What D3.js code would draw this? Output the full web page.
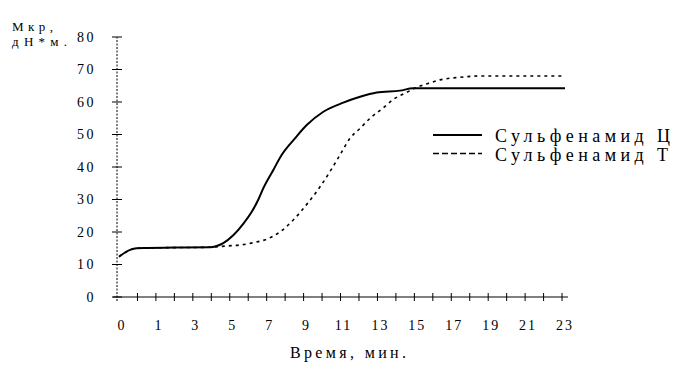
<!DOCTYPE html>
<html><head><meta charset="utf-8">
<script src="https://cdn.jsdelivr.net/npm/d3@7"></script>
<style>
html,body{margin:0;padding:0;background:#fff;}
svg text{font-family:'Liberation Serif','Times New Roman',Times,serif !important;}
</style></head>
<body><svg id="chart" width="695" height="378"></svg>
<script>
// x tick labels (minutes) — evenly spaced on the original axis
const xTickLabels = [0,1,3,5,7,9,11,13,15,17,19,21,23];
const yTickValues = [0,10,20,30,40,50,60,70,80];
// series: time (min) and torque (dN*m)
const tSolid = [0,0.3,0.48,0.66,2.03,3.93,4.29,4.65,5.19,5.73,6.19,6.55,6.82,7.36,7.81,8.53,9.17,10.07,11.15,12.06,12.96,14.22,14.93,23.16];
const vSolid = [12.4,14.5,15.0,15.1,15.2,15.3,15.7,16.6,19.0,22.5,26.2,30.0,33.5,39.1,43.7,48.8,52.9,57.0,59.8,61.6,62.9,63.5,64.2,64.2];
const tDashed = [0,0.3,0.48,0.66,2.03,3.93,4.83,5.55,6.28,7.0,7.72,8.44,9.17,9.89,10.43,10.97,11.51,12.06,12.6,13.32,13.86,14.49,15.31,15.85,16.39,17.47,18.56,23.16];
const vDashed = [12.4,14.5,15.0,15.1,15.2,15.3,15.7,16.0,16.7,17.8,20.0,23.7,28.5,33.9,38.6,43.7,48.8,51.9,55.0,58.2,60.8,62.7,64.9,65.9,66.8,67.6,68.0,68.0];
const seriesNames = ["Сульфенамид Ц","Сульфенамид Т"];

const svg = d3.select("#chart");
const x0 = 119, step = 36.92;
const x = d3.scaleLinear().domain(xTickLabels).range(xTickLabels.map((d,i)=>x0+i*step));
const y = d3.scaleLinear().domain([0,80]).range([297,37]);

const g = svg.append("g");
// x axis line
g.append("line").attr("x1",113).attr("x2",568).attr("y1",y(0)).attr("y2",y(0))
  .attr("stroke","#000").attr("stroke-width",1);
// y axis line (dotted look)
g.append("line").attr("x1",117).attr("x2",117).attr("y1",y(0)+4).attr("y2",y(80))
  .attr("stroke","#000").attr("stroke-width",1).attr("stroke-dasharray","2,1.5");

// y ticks
g.selectAll(".yt").data(yTickValues).enter().append("line")
  .attr("x1",112).attr("x2",122).attr("y1",d=>y(d)).attr("y2",d=>y(d))
  .attr("stroke","#000").attr("stroke-width",1);
g.selectAll(".yl").data(yTickValues).enter().append("text")
  .attr("x",96).attr("y",d=>y(d)).attr("dy","0.35em").attr("text-anchor","end")
  .attr("font-size",14).attr("letter-spacing",2.5).text(d=>d);

// x ticks: at labels and halfway between
const halfTicks = [];
for (let i=0;i<xTickLabels.length;i++){
  halfTicks.push(x(xTickLabels[i]));
  if (i<xTickLabels.length-1) halfTicks.push((x(xTickLabels[i])+x(xTickLabels[i+1]))/2);
}
g.selectAll(".xt").data(halfTicks.slice(1)).enter().append("line")
  .attr("x1",d=>d).attr("x2",d=>d).attr("y1",y(0)-4).attr("y2",y(0)+4)
  .attr("stroke","#000").attr("stroke-width",1);
g.selectAll(".xl").data(xTickLabels).enter().append("text")
  .attr("x",d=>x(d)+3).attr("y",330).attr("text-anchor","middle")
  .attr("font-size",14).attr("letter-spacing",2).text(d=>d);

// axis titles
g.append("text").attr("x",12).attr("y",31).attr("font-size",13)
  .attr("textLength",41).attr("lengthAdjust","spacing").text("Мкр,");
g.append("text").attr("x",12).attr("y",46).attr("font-size",13)
  .attr("textLength",55).attr("lengthAdjust","spacing").text("дН*м.");
g.append("text").attr("x",290).attr("y",358).attr("font-size",16)
  .attr("textLength",116).attr("lengthAdjust","spacing").text("Время, мин.");

// lines
const line = d3.line().x(d=>x(d[0])).y(d=>y(d[1])).curve(d3.curveMonotoneX);
const dSolid = tSolid.map((t,i)=>[t,vSolid[i]]);
const dDashed = tDashed.map((t,i)=>[t,vDashed[i]]);
g.append("path").attr("d",line(dDashed)).attr("fill","none").attr("stroke","#000")
  .attr("stroke-width",1.6).attr("stroke-dasharray","3,4");
g.append("path").attr("d",line(dSolid)).attr("fill","none").attr("stroke","#000")
  .attr("stroke-width",2);

// legend
const leg = g.append("g");
leg.append("line").attr("x1",433).attr("x2",482).attr("y1",135).attr("y2",135)
  .attr("stroke","#000").attr("stroke-width",2);
leg.append("line").attr("x1",433).attr("x2",482).attr("y1",153.5).attr("y2",153.5)
  .attr("stroke","#000").attr("stroke-width",1.3).attr("stroke-dasharray","6,3");
leg.append("text").attr("x",495).attr("y",142).attr("font-size",18)
  .attr("textLength",175).attr("lengthAdjust","spacing").text(seriesNames[0]);
leg.append("text").attr("x",495).attr("y",161).attr("font-size",18)
  .attr("textLength",173).attr("lengthAdjust","spacing").text(seriesNames[1]);
</script></body></html>
